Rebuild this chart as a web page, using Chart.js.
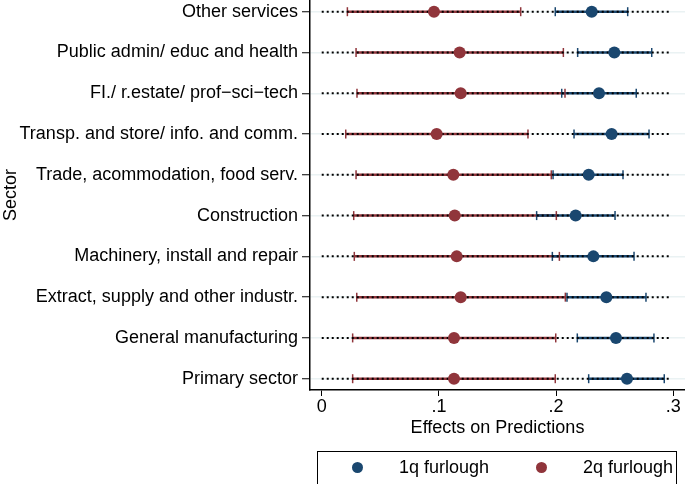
<!DOCTYPE html>
<html>
<head>
<meta charset="utf-8">
<script src="https://cdn.jsdelivr.net/npm/chart.js@4.4.1/dist/chart.umd.min.js"></script>
<style>
  html, body { margin: 0; padding: 0; background: #fff; }
  #wrap { position: relative; width: 685px; height: 484px; overflow: hidden; font-family: "Liberation Sans", Arial, sans-serif; }
  #chart { position: absolute; left: 0; top: 0; }
  #legend { position: absolute; left: 317px; top: 451px; width: 360px; height: 44px; border: 1px solid #000; box-sizing: border-box; }
  .mk { position: absolute; width: 11px; height: 11px; border-radius: 50%; top: 10px; }
  .lt { position: absolute; top: 5px; font-size: 18px; color: #000; white-space: nowrap; }
</style>
</head>
<body>
<div id="wrap">
  <canvas id="chart" width="685" height="484"></canvas>
  <div id="legend">
    <span class="mk" style="left:34px;background:#1a476f"></span>
    <span class="lt" id="lab1" style="left:81px"></span>
    <span class="mk" style="left:218px;background:#90353b"></span>
    <span class="lt" id="lab2" style="left:265px"></span>
  </div>
</div>
<script>
// sectors, bottom to top
const sectors = [
  "Primary sector",
  "General manufacturing",
  "Extract, supply and other industr.",
  "Machinery, install and repair",
  "Construction",
  "Trade, acommodation, food serv.",
  "Transp. and store/ info. and comm.",
  "FI./ r.estate/ prof\u2212sci\u2212tech",
  "Public admin/ educ and health",
  "Other services"
];
const seriesNames = ["1q furlough", "2q furlough"];

// 1q furlough
const est1 = [0.2605, 0.2511, 0.2429, 0.2318, 0.2167, 0.2278, 0.2474, 0.2366, 0.2497, 0.2304];
const lo1  = [0.2278, 0.2181, 0.2093, 0.1968, 0.1834, 0.1974, 0.2153, 0.2048, 0.2184, 0.1993];
const hi1  = [0.2923, 0.2835, 0.2767, 0.2665, 0.2503, 0.2571, 0.2793, 0.2684, 0.2816, 0.2611];

// 2q furlough
const est2 = [0.1129, 0.1129, 0.1186, 0.1152, 0.1135, 0.1123, 0.0981, 0.1186, 0.1177, 0.0958];
const lo2  = [0.0264, 0.0264, 0.0299, 0.0278, 0.0273, 0.0293, 0.0205, 0.0301, 0.0293, 0.0219];
const hi2  = [0.1993, 0.1997, 0.2079, 0.2028, 0.2002, 0.1959, 0.1760, 0.2076, 0.2062, 0.1698];

// dotted guide line range
const guideFrom = 0;
const guideTo = 0.2966;

const xTicks = [0, 0.1, 0.2, 0.3];
const xTickLabels = ["0", ".1", ".2", ".3"];

const BLUE = "#1a476f";
const RED = "#90353b";
const FONT = "'Liberation Sans', Arial, sans-serif";

document.getElementById("lab1").textContent = seriesNames[0];
document.getElementById("lab2").textContent = seriesNames[1];

function segments(a, b) {
  const out = [];
  sectors.forEach((s, i) => {
    out.push({ x: a[i], y: i + 1 }, { x: b[i], y: i + 1 }, { x: null, y: null });
  });
  return out;
}
function pts(vals) { return vals.map((v, i) => ({ x: v, y: i + 1 })); }
function caps(a, b) { return pts(a).concat(pts(b)); }

const guideLo = sectors.map(() => guideFrom);
const guideHi = sectors.map(() => guideTo);

const segStyle = { showLine: true, spanGaps: false, pointRadius: 0, borderWidth: 2.5, fill: false };
const capStyle = { showLine: false, pointStyle: "line", rotation: 90, pointRadius: 4.5, borderWidth: 1.5 };

// no extra room for half tick labels at the ends of the axes
function noPad(s) { s.paddingTop = 0; s.paddingBottom = 0; s.paddingLeft = 0; s.paddingRight = 0; }

new Chart(document.getElementById("chart"), {
  type: "scatter",
  data: {
    datasets: [
      { data: pts(est1), backgroundColor: BLUE, borderColor: BLUE, pointRadius: 6, borderWidth: 0, order: 0 },
      { data: pts(est2), backgroundColor: RED, borderColor: RED, pointRadius: 6, borderWidth: 0, order: 0 },
      { data: segments(guideLo, guideHi), showLine: true, spanGaps: false, pointRadius: 0, borderColor: "#000", borderWidth: 2, borderDash: [2, 3], order: 1 },
      Object.assign({ data: caps(lo1, hi1), borderColor: BLUE, order: 2 }, capStyle),
      Object.assign({ data: caps(lo2, hi2), borderColor: RED, order: 2 }, capStyle),
      Object.assign({ data: segments(lo1, hi1), borderColor: BLUE, order: 3 }, segStyle),
      Object.assign({ data: segments(lo2, hi2), borderColor: RED, order: 3 }, segStyle)
    ]
  },
  options: {
    responsive: false,
    animation: false,
    events: [],
    layout: { autoPadding: false, padding: { top: 0, right: 0, left: 0, bottom: 34 } },
    plugins: { legend: { display: false }, tooltip: { enabled: false } },
    scales: {
      x: {
        type: "linear",
        min: -0.01,
        max: 0.31,
        afterFit: s => { s.height = 60; noPad(s); },
        afterBuildTicks: s => { s.ticks = xTicks.map(v => ({ value: v })); },
        ticks: { color: "#000", font: { family: FONT, size: 18 }, padding: 0, maxRotation: 0,
          callback: (v) => xTickLabels[xTicks.indexOf(v)] },
        grid: { drawOnChartArea: false, tickLength: 6, tickColor: "#000", tickWidth: 1 },
        border: { color: "#000", width: 1.5 },
        title: { display: true, text: "Effects on Predictions", color: "#000",
          font: { family: FONT, size: 18 }, padding: { top: 0, bottom: 11 } }
      },
      y: {
        type: "linear",
        min: 0.723,
        max: 10.287,
        afterFit: s => { s.width = 310; noPad(s); },
        afterBuildTicks: s => { s.ticks = sectors.map((n, i) => ({ value: i + 1 })); },
        ticks: { color: "#000", font: { family: FONT, size: 18 }, padding: 4,
          callback: (v) => sectors[v - 1] },
        grid: { color: "#eaf2f3", lineWidth: 1.5, tickLength: 8, tickColor: "#000", tickWidth: 1 },
        border: { color: "#000", width: 1.5 },
        title: { display: true, text: "Sector", color: "#000", font: { family: FONT, size: 18 }, padding: { top: 0, bottom: -2 } }
      }
    }
  }
});
</script>
</body>
</html>
